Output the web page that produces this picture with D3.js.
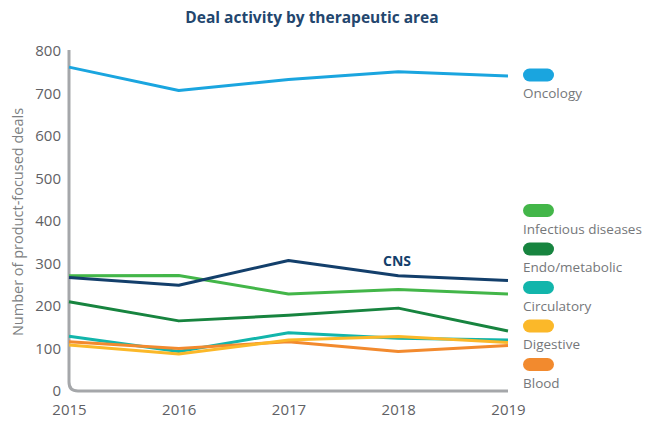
<!DOCTYPE html>
<html>
<head>
<meta charset="utf-8">
<script src="https://cdn.jsdelivr.net/npm/d3@7"></script>
<style>
  body { margin: 0; background: #fff; }
  svg { font-family: "Open Sans", sans-serif; }
</style>
</head>
<body>
<svg width="650" height="423"></svg>
<script>
// Data
var years = [2015, 2016, 2017, 2018, 2019];
var yTicks = [0, 100, 200, 300, 400, 500, 600, 700, 800];

var oncology = [762, 707, 733, 751, 741];
var cns = [267, 249, 307, 271, 260];
var infectious = [271, 272, 228, 239, 228];
var endo = [210, 165, 178, 195, 141];
var circulatory = [129, 93, 137, 124, 120];
var blood = [116, 100, 116, 93, 107];
var digestive = [108, 87, 120, 128, 114];

// Series in drawing order (bottom first)
var series = [
  { name: "Circulatory", values: circulatory, color: "#12b5ab" },
  { name: "Blood", values: blood, color: "#f28a2e" },
  { name: "Digestive", values: digestive, color: "#fbb829" },
  { name: "Endo/metabolic", values: endo, color: "#17843f" },
  { name: "Infectious diseases", values: infectious, color: "#43b649" },
  { name: "CNS", values: cns, color: "#133f6b" },
  { name: "Oncology", values: oncology, color: "#1aa5df" }
];

var legendOrder = ["Oncology", "Infectious diseases", "Endo/metabolic", "Circulatory", "Digestive", "Blood"];
var legendY = [75, 210.5, 249, 287.5, 326, 364.5];

var svg = d3.select("svg");

var x = d3.scaleLinear()
    .domain([2015, 2019])
    .range([69, 508]);

var y = d3.scaleLinear()
    .domain([0, 800])
    .range([391, 51]);

// Title
svg.append("text")
    .attr("x", 312)
    .attr("y", 23)
    .attr("text-anchor", "middle")
    .style("font-size", "15.5px")
    .style("font-weight", "bold")
    .style("fill", "#23466e")
    .text("Deal activity by therapeutic area");

// Y axis title
svg.append("text")
    .attr("transform", "translate(23,222) rotate(-90)")
    .attr("text-anchor", "middle")
    .style("font-size", "14.5px")
    .style("fill", "#7d7f82")
    .text("Number of product-focused deals");

// Axes (ticks only, the frame is drawn below)
var yAxis = svg.append("g")
    .attr("transform", "translate(61,0)")
    .call(d3.axisLeft(y).tickValues(yTicks).tickSize(0).tickPadding(0));
yAxis.select(".domain").remove();
yAxis.selectAll("text")
    .style("font-family", "'Open Sans', sans-serif")
    .style("font-size", "15px")
    .style("fill", "#5f6165");

var xAxis = svg.append("g")
    .attr("transform", "translate(0,404)")
    .call(d3.axisBottom(x).tickValues(years).tickFormat(d3.format("d")).tickSize(0).tickPadding(0));
xAxis.select(".domain").remove();
xAxis.selectAll("text")
    .style("font-family", "'Open Sans', sans-serif")
    .style("font-size", "15px")
    .style("fill", "#5f6165");

// Rounded L-shaped frame
var r = 9;
svg.append("path")
    .attr("d", "M" + x(2015) + "," + 50 +
               "V" + (y(0) - r) +
               "Q" + x(2015) + "," + y(0) + " " + (x(2015) + r) + "," + y(0) +
               "H" + x(2019))
    .attr("fill", "none")
    .attr("stroke", "#a5a7aa")
    .attr("stroke-width", 3);

// Lines
var line = d3.line()
    .x(function (d, i) { return x(years[i]); })
    .y(function (d) { return y(d); });

svg.append("g")
    .selectAll("path")
    .data(series)
    .enter()
    .append("path")
    .attr("d", function (d) { return line(d.values); })
    .attr("fill", "none")
    .attr("stroke", function (d) { return d.color; })
    .attr("stroke-width", 3)
    .attr("stroke-linejoin", "round");

// CNS label
svg.append("text")
    .attr("x", 397)
    .attr("y", 266)
    .attr("text-anchor", "middle")
    .style("font-size", "14px")
    .style("font-weight", "bold")
    .style("fill", "#133f6b")
    .text("CNS");

// Legend
var colorOf = {};
series.forEach(function (s) { colorOf[s.name] = s.color; });

var legend = svg.append("g")
    .selectAll("g")
    .data(legendOrder)
    .enter()
    .append("g")
    .attr("transform", function (d, i) { return "translate(523," + legendY[i] + ")"; });

legend.append("rect")
    .attr("x", 0)
    .attr("y", -6.5)
    .attr("width", 31)
    .attr("height", 13)
    .attr("rx", 6.5)
    .attr("fill", function (d) { return colorOf[d]; });

legend.append("text")
    .attr("x", 0)
    .attr("y", 23)
    .style("font-size", "13.5px")
    .style("fill", "#75777a")
    .text(function (d) { return d; });
</script>
</body>
</html>
